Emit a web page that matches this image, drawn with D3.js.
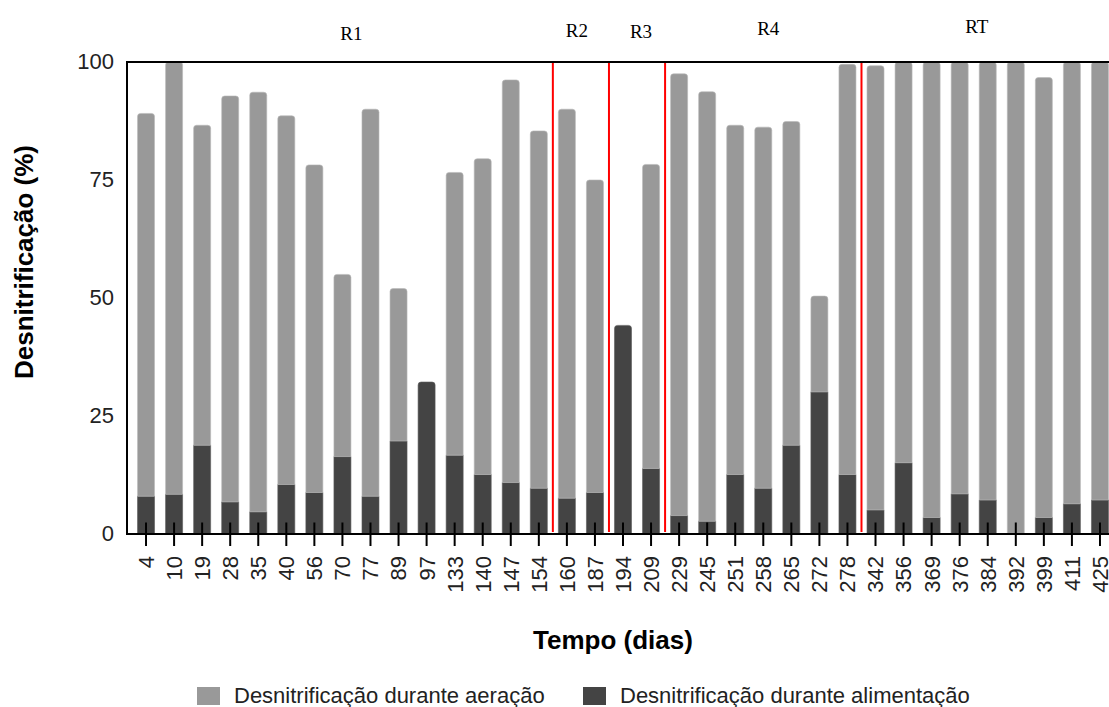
<!DOCTYPE html>
<html>
<head>
<meta charset="utf-8">
<script src="https://cdn.jsdelivr.net/npm/d3@7"></script>
<style>
  html, body { margin: 0; padding: 0; background: #fff; }
  svg { display: block; }
</style>
</head>
<body>
<svg id="chart" width="1109" height="707"></svg>
<script>
// Sampling days (x axis)
const dias = ["4","10","19","28","35","40","56","70","77","89","97","133","140","147","154",
  "160","187","194","209","229","245","251","258","265","272","278","342","356","369",
  "376","384","392","399","411","425"];

// Denitrification during feeding (%)
const alimentacao = [8.0, 8.4, 18.8, 6.8, 4.7, 10.5, 8.8, 16.4, 8.0, 19.7, 32.2, 16.7, 12.6, 10.9, 9.7,
  7.6, 8.8, 44.2, 13.9, 3.9, 2.7, 12.6, 9.7, 18.8, 30.1, 12.6, 5.1, 15.1, 3.5,
  8.5, 7.2, 0, 3.5, 6.4, 7.2];

// Denitrification during aeration (%), stacked above feeding
const aeracao = [81.1, 91.6, 67.8, 86.0, 88.9, 78.1, 69.4, 38.6, 82.0, 32.3, 0, 59.9, 66.9, 85.3, 75.7,
  82.4, 66.2, 0, 64.4, 93.6, 91.0, 74.0, 76.5, 68.6, 20.3, 86.9, 94.1, 84.9, 96.5,
  91.5, 92.8, 100, 93.2, 93.6, 92.8];

const yTicks = [0, 25, 50, 75, 100];

// Operating phases: label and first day of each phase
const fases = ["R1", "R2", "R3", "R4", "RT"];
const faseInicio = ["4", "160", "194", "229", "342"];
const faseDx = [9, -4, 4, 5, -11];
const faseBaseline = [40, 37, 38, 35, 33];

const serieNomes = ["Desnitrificação durante aeração", "Desnitrificação durante alimentação"];
const cores = { alimentacao: "#444444", aeracao: "#999999" };

const svg = d3.select("#chart");
const mLeft = 127, mTop = 62, mBottom = 534, mRight = 1109;

const x = d3.scaleBand().domain(dias).range([132, 1114])
  .paddingInner(0.394).paddingOuter(0.197);
const y = d3.scaleLinear().domain([0, 100]).range([mBottom, mTop]);

const rows = dias.map((d, i) => ({ dia: d, alimentacao: alimentacao[i], aeracao: aeracao[i] }));
const stack = d3.stack().keys(["alimentacao", "aeracao"]);
const series = stack(rows);

// bar with rounded top corners
function barPath(x0, w, yTop, yBot, r) {
  r = Math.min(r, (yBot - yTop) / 2, w / 2);
  return `M${x0},${yBot}V${yTop + r}Q${x0},${yTop} ${x0 + r},${yTop}H${x0 + w - r}` +
    `Q${x0 + w},${yTop} ${x0 + w},${yTop + r}V${yBot}Z`;
}

const bars = svg.append("g");
series.forEach(s => {
  bars.append("g").selectAll("path").data(s).join("path")
    .attr("fill", cores[s.key])
    .attr("stroke", s.key === "aeracao" ? "#b8b8b8" : "#5a5a5a")
    .attr("stroke-width", 0.6)
    .attr("d", d => {
      if (d[1] - d[0] <= 0) return null;
      const isTop = d[1] >= d.data.alimentacao + d.data.aeracao - 1e-9;
      return barPath(x(d.data.dia), x.bandwidth(), y(d[1]), y(d[0]), isTop ? 3 : 0);
    });
});

// phase separators
const step = x.step();
const sepX = d => x(d) + x.bandwidth() / 2 - step / 2;
svg.append("g").selectAll("line").data(faseInicio.slice(1)).join("line")
  .attr("x1", sepX).attr("x2", sepX)
  .attr("y1", mTop).attr("y2", mBottom - 2)
  .attr("stroke", "#ff0000").attr("stroke-width", 2);

// phase labels
const faseFim = faseInicio.slice(1).map(sepX).concat([x.range()[1]]);
const faseIni = [x.range()[0]].concat(faseFim.slice(0, -1));
svg.append("g").selectAll("text").data(fases).join("text")
  .attr("x", (d, i) => (faseIni[i] + faseFim[i]) / 2 + faseDx[i])
  .attr("y", (d, i) => faseBaseline[i])
  .attr("text-anchor", "middle")
  .attr("font-family", "'Liberation Serif', 'Times New Roman', serif")
  .attr("font-size", 19)
  .attr("fill", "#000")
  .text(d => d);

// y axis
const yAxis = svg.append("g").attr("transform", `translate(${mLeft},0)`)
  .call(d3.axisLeft(y).tickValues(yTicks).tickSize(0).tickPadding(13));
yAxis.select(".domain").remove();
yAxis.selectAll("text")
  .attr("font-family", "'Liberation Sans', Arial, sans-serif")
  .attr("font-size", 22).attr("fill", "#222").attr("dy", "0.28em");

// x axis
const xAxis = svg.append("g").attr("transform", `translate(0,${mBottom})`)
  .call(d3.axisBottom(x).tickSize(12).tickPadding(0));
xAxis.select(".domain").remove();
xAxis.selectAll(".tick line").attr("y1", -11.5).attr("y2", 12)
  .attr("stroke", "#000").attr("stroke-width", 2);
xAxis.selectAll(".tick text")
  .attr("font-family", "'Liberation Sans', Arial, sans-serif")
  .attr("font-size", 22).attr("fill", "#222")
  .attr("text-anchor", "end")
  .attr("transform", "translate(0,22) rotate(-90)")
  .attr("x", 0).attr("y", 0).attr("dy", "0.36em");

// frame lines
const frame = svg.append("g").attr("stroke", "#000").attr("stroke-width", 2);
frame.append("line").attr("x1", mLeft).attr("x2", mRight).attr("y1", mTop).attr("y2", mTop);
frame.append("line").attr("x1", mLeft).attr("x2", mRight).attr("y1", mBottom).attr("y2", mBottom);
frame.append("line").attr("x1", mLeft).attr("x2", mLeft).attr("y1", mTop - 1).attr("y2", mBottom + 1);

// axis titles
svg.append("text")
  .attr("transform", "translate(33,262) rotate(-90)")
  .attr("text-anchor", "middle")
  .attr("font-family", "'Liberation Sans', Arial, sans-serif")
  .attr("font-weight", "bold").attr("font-size", 26).attr("fill", "#000")
  .text("Desnitrificação (%)");

svg.append("text")
  .attr("x", 613).attr("y", 649)
  .attr("text-anchor", "middle")
  .attr("font-family", "'Liberation Sans', Arial, sans-serif")
  .attr("font-weight", "bold").attr("font-size", 26).attr("fill", "#000")
  .text("Tempo (dias)");

// legend
const legendX = [197, 583];
const legendCores = [cores.aeracao, cores.alimentacao];
const legend = svg.append("g").selectAll("g").data(serieNomes).join("g")
  .attr("transform", (d, i) => `translate(${legendX[i]},687)`);
legend.append("rect").attr("width", 23).attr("height", 18)
  .attr("fill", (d, i) => legendCores[i]);
legend.append("text").attr("x", 37).attr("y", 16)
  .attr("font-family", "'Liberation Sans', Arial, sans-serif")
  .attr("font-size", 22).attr("fill", "#222")
  .text(d => d);
</script>
</body>
</html>
